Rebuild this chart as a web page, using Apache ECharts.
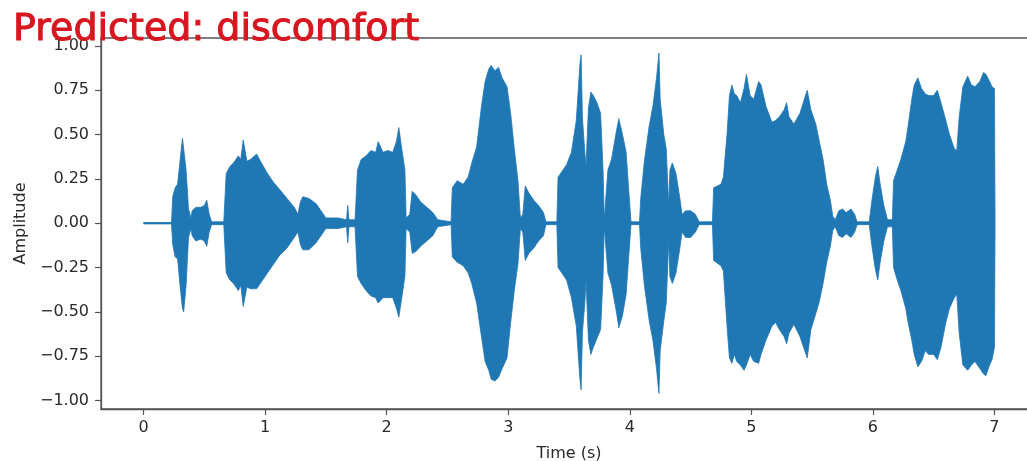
<!DOCTYPE html>
<html>
<head>
<meta charset="utf-8">
<script src="https://cdn.jsdelivr.net/npm/echarts@6/dist/echarts.min.js"></script>
<style>html,body{margin:0;padding:0;background:#fff}#c{width:1027px;height:461px}</style>
</head>
<body>
<div id="c"></div>
<script>
// Envelope of the waveform: time (s), upper and lower amplitude
const times = [0.00,0.23,0.24,0.26,0.28,0.30,0.32,0.33,0.35,0.37,0.39,0.40,0.43,0.47,0.50,0.52,0.54,0.56,0.66,0.68,0.71,0.74,0.78,0.80,0.82,0.83,0.85,0.88,0.93,0.97,1.02,1.07,1.12,1.18,1.24,1.27,1.29,1.31,1.36,1.42,1.47,1.50,1.60,1.67,1.68,1.69,1.74,1.76,1.79,1.83,1.87,1.91,1.93,1.97,2.01,2.05,2.08,2.10,2.12,2.15,2.16,2.19,2.21,2.24,2.28,2.33,2.38,2.42,2.53,2.54,2.58,2.63,2.67,2.70,2.74,2.78,2.81,2.84,2.86,2.89,2.92,2.95,2.99,3.02,3.05,3.08,3.10,3.12,3.14,3.17,3.21,3.25,3.29,3.31,3.40,3.41,3.44,3.48,3.52,3.56,3.59,3.60,3.61,3.63,3.64,3.66,3.68,3.70,3.73,3.76,3.78,3.79,3.82,3.85,3.89,3.91,3.94,3.97,3.99,4.01,4.08,4.09,4.12,4.16,4.19,4.22,4.24,4.25,4.28,4.30,4.32,4.33,4.35,4.38,4.41,4.43,4.46,4.50,4.54,4.57,4.68,4.69,4.75,4.77,4.80,4.82,4.84,4.86,4.88,4.91,4.94,4.96,4.99,5.02,5.06,5.08,5.12,5.17,5.20,5.23,5.27,5.29,5.31,5.35,5.40,5.45,5.46,5.49,5.53,5.56,5.59,5.62,5.65,5.67,5.69,5.72,5.75,5.78,5.82,5.85,5.87,5.97,5.99,6.02,6.04,6.06,6.09,6.12,6.16,6.17,6.20,6.23,6.27,6.29,6.32,6.34,6.37,6.40,6.43,6.46,6.50,6.53,6.56,6.60,6.63,6.67,6.69,6.71,6.74,6.78,6.81,6.84,6.88,6.91,6.93,6.96,6.98,7.00,7.005];
const upper = [0.004,0.004,0.15,0.20,0.22,0.35,0.48,0.49,0.30,0.08,0.03,0.07,0.09,0.09,0.10,0.13,0.05,0.008,0.008,0.28,0.32,0.34,0.38,0.36,0.47,0.46,0.35,0.36,0.39,0.34,0.28,0.23,0.19,0.14,0.09,0.05,0.12,0.15,0.14,0.11,0.06,0.03,0.03,0.02,0.10,0.02,0.02,0.30,0.36,0.38,0.41,0.40,0.46,0.40,0.41,0.40,0.46,0.54,0.44,0.30,0.03,0.05,0.18,0.16,0.12,0.09,0.06,0.02,0.008,0.20,0.24,0.22,0.26,0.34,0.43,0.66,0.80,0.87,0.89,0.86,0.88,0.82,0.77,0.62,0.42,0.24,0.03,0.05,0.21,0.17,0.13,0.10,0.06,0.008,0.008,0.26,0.29,0.33,0.40,0.58,0.90,0.95,0.60,0.40,0.32,0.65,0.74,0.72,0.68,0.62,0.30,0.02,0.30,0.36,0.52,0.59,0.50,0.40,0.20,0.008,0.008,0.14,0.35,0.55,0.66,0.82,0.96,0.70,0.50,0.42,0.10,0.30,0.34,0.28,0.15,0.05,0.07,0.07,0.05,0.008,0.008,0.20,0.22,0.26,0.50,0.72,0.78,0.73,0.72,0.68,0.76,0.84,0.72,0.70,0.80,0.78,0.66,0.57,0.58,0.60,0.64,0.68,0.60,0.56,0.62,0.73,0.75,0.64,0.56,0.46,0.36,0.22,0.13,0.04,0.02,0.07,0.08,0.06,0.08,0.05,0.008,0.008,0.12,0.26,0.32,0.22,0.10,0.02,0.02,0.24,0.30,0.36,0.46,0.55,0.70,0.78,0.82,0.76,0.73,0.72,0.72,0.75,0.68,0.58,0.50,0.42,0.41,0.60,0.77,0.83,0.78,0.77,0.80,0.85,0.84,0.80,0.77,0.76,0.0];
const lower = [-0.004,-0.004,-0.12,-0.19,-0.20,-0.35,-0.48,-0.50,-0.35,-0.08,-0.03,-0.07,-0.10,-0.09,-0.10,-0.13,-0.05,-0.008,-0.008,-0.28,-0.32,-0.34,-0.38,-0.35,-0.47,-0.47,-0.36,-0.37,-0.37,-0.33,-0.28,-0.23,-0.18,-0.14,-0.08,-0.05,-0.12,-0.15,-0.15,-0.11,-0.06,-0.03,-0.03,-0.02,-0.11,-0.02,-0.02,-0.30,-0.34,-0.38,-0.41,-0.42,-0.45,-0.42,-0.42,-0.42,-0.48,-0.53,-0.44,-0.30,-0.03,-0.05,-0.17,-0.16,-0.13,-0.10,-0.07,-0.02,-0.008,-0.19,-0.22,-0.24,-0.28,-0.34,-0.45,-0.64,-0.78,-0.83,-0.88,-0.89,-0.87,-0.82,-0.76,-0.56,-0.38,-0.23,-0.03,-0.05,-0.21,-0.17,-0.14,-0.10,-0.07,-0.008,-0.008,-0.25,-0.28,-0.32,-0.42,-0.58,-0.88,-0.94,-0.62,-0.45,-0.32,-0.66,-0.74,-0.70,-0.65,-0.60,-0.30,-0.02,-0.28,-0.35,-0.50,-0.59,-0.52,-0.40,-0.20,-0.008,-0.008,-0.14,-0.35,-0.55,-0.66,-0.82,-0.96,-0.72,-0.55,-0.45,-0.10,-0.30,-0.34,-0.28,-0.15,-0.05,-0.08,-0.08,-0.05,-0.008,-0.008,-0.21,-0.24,-0.27,-0.58,-0.76,-0.79,-0.74,-0.78,-0.80,-0.83,-0.80,-0.74,-0.78,-0.79,-0.74,-0.66,-0.58,-0.56,-0.60,-0.64,-0.68,-0.62,-0.57,-0.64,-0.74,-0.76,-0.60,-0.51,-0.44,-0.34,-0.22,-0.13,-0.04,-0.02,-0.07,-0.08,-0.06,-0.08,-0.05,-0.008,-0.008,-0.12,-0.26,-0.32,-0.22,-0.10,-0.02,-0.02,-0.25,-0.32,-0.38,-0.48,-0.56,-0.66,-0.74,-0.81,-0.78,-0.72,-0.74,-0.74,-0.77,-0.70,-0.56,-0.48,-0.42,-0.40,-0.62,-0.80,-0.83,-0.80,-0.78,-0.82,-0.85,-0.86,-0.80,-0.77,-0.70,0.0];
const xTicks = [0,1,2,3,4,5,6,7];
const yTicks = [-1,-0.75,-0.5,-0.25,0,0.25,0.5,0.75,1];
const titleText = 'Predicted: discomfort';

const upperData = times.map((t,i)=>[t, upper[i]]);
const lowerData = times.map((t,i)=>[t, lower[i]]);
const fmt = v => (v < 0 ? '\u2212' : '') + Math.abs(v).toFixed(2);
const axisColor = '#555';
const labelColor = '#2a2a2a';
const FONT = 'DejaVu Sans';
const WAVE = '#1f77b4';

const chart = echarts.init(document.getElementById('c'), null, {renderer:'canvas'});
chart.setOption({
  animation: false,
  backgroundColor: '#fff',
  title: {
    text: titleText, left: 8, top: 6, z: 10,
    textStyle: {color:'#d8161f', fontFamily: FONT, fontSize: 38, fontWeight: 'normal',
      textBorderColor: '#d8161f', textBorderWidth: 1}
  },
  grid: {left: 101, top: 38, bottom: 52, right: -10, show: true, borderColor: axisColor, borderWidth: 1.3,
    containLabel: false, outerBoundsMode: 'none'},
  xAxis: {
    type: 'value', min: -0.35, max: 7.35,
    name: 'Time (s)', nameLocation: 'middle', nameGap: 37,
    nameTextStyle: {color: labelColor, fontFamily: FONT, fontSize: 16},
    axisLine: {show: true, onZero: false, lineStyle: {color: axisColor, width: 1.3}},
    axisTick: {show: true, length: 6, customValues: xTicks, lineStyle: {color: axisColor, width: 1.2}},
    axisLabel: {customValues: xTicks, color: labelColor, fontFamily: FONT, fontSize: 16, margin: 11, formatter: v => String(v)},
    splitLine: {show: false}
  },
  yAxis: {
    type: 'value', min: -1.048, max: 1.045,
    name: 'Amplitude', nameLocation: 'middle', nameGap: 72, nameRotate: 90,
    nameTextStyle: {color: labelColor, fontFamily: FONT, fontSize: 16},
    axisLine: {show: true, onZero: false, lineStyle: {color: axisColor, width: 1.3}},
    axisTick: {show: true, length: 6, customValues: yTicks, lineStyle: {color: axisColor, width: 1.2}},
    axisLabel: {customValues: yTicks, color: labelColor, fontFamily: FONT, fontSize: 16, margin: 12, formatter: fmt},
    splitLine: {show: false}
  },
  series: [
    {type:'line', data: upperData, showSymbol:false, symbol:'none', lineStyle:{color:WAVE, width:0.8}, areaStyle:{color:WAVE, opacity:1, origin: -0.004}, z: 2},
    {type:'line', data: lowerData, showSymbol:false, symbol:'none', lineStyle:{color:WAVE, width:0.8}, areaStyle:{color:WAVE, opacity:1, origin: 0.004}, z: 2}
  ]
});
</script>
</body>
</html>
